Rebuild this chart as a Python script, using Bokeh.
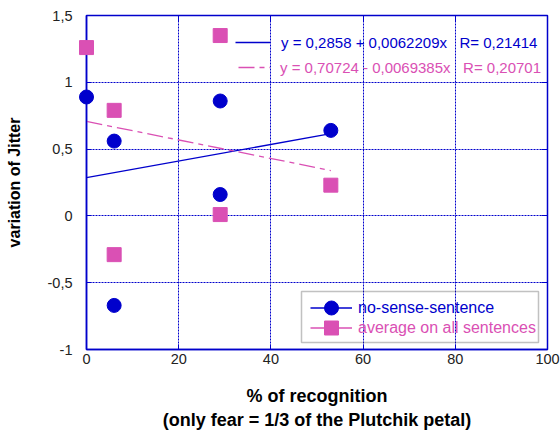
from bokeh.plotting import figure
from bokeh.models import (Range1d, FixedTicker, LinearAxis, Legend, LegendItem,
                          ColumnDataSource, BoxAnnotation)
from bokeh.embed import file_html
from bokeh.resources import INLINE

# ---- data ----
x_recog = [0, 6, 6, 29, 29, 53]
y_nosense = [0.89, 0.56, -0.67, 0.86, 0.16, 0.64]
y_average = [1.26, 0.79, -0.29, 1.35, 0.01, 0.23]

fit_x = [0, 53]
nosense_intercept, nosense_slope = 0.2858, 0.0062209
average_intercept, average_slope = 0.70724, -0.0069385
nosense_eq = "y = 0,2858 + 0,0062209x   R= 0,21414"
average_eq = "y = 0,70724 - 0,0069385x   R= 0,20701"

x_ticks = [0, 20, 40, 60, 80, 100]
y_ticks = [-1, -0.5, 0, 0.5, 1, 1.5]
y_tick_labels = ["-1", "-0,5", "0", "0,5", "1", "1,5"]

BLUE = "#0000CC"
PINK = "#DA50B4"
FONT = "Liberation Sans"

p = figure(width=560, height=432, output_backend="svg", toolbar_location=None,
           x_range=Range1d(0, 100), y_range=Range1d(-1, 1.5),
           min_border_left=86, min_border_right=13, min_border_top=15, min_border_bottom=82)
p.background_fill_color = "white"
p.border_fill_color = "white"
p.outline_line_color = BLUE
p.outline_line_width = 1.5

p.xaxis.ticker = FixedTicker(ticks=x_ticks)
p.yaxis.ticker = FixedTicker(ticks=y_ticks)
p.yaxis.major_label_overrides = {t: s for t, s in zip(y_ticks, y_tick_labels)}

for ax in (p.xaxis[0], p.yaxis[0]):
    ax.axis_line_color = BLUE
    ax.axis_line_width = 1.5
    ax.major_tick_line_color = BLUE
    ax.major_tick_in = 5
    ax.major_tick_out = 0
    ax.minor_tick_line_color = None
    ax.major_label_text_font = FONT
    ax.major_label_text_font_size = "14.5px"
    ax.major_label_text_color = "#222222"
    ax.axis_label_text_font = FONT
    ax.axis_label_text_font_style = "bold"
    ax.axis_label_text_color = "black"

p.xaxis.axis_label = "% of recognition\n(only fear = 1/3 of the Plutchik petal)"
p.yaxis.axis_label = "variation of Jitter"
p.xaxis.axis_label_text_font_size = "18px"
p.yaxis.axis_label_text_font_size = "16px"
p.xaxis.major_label_standoff = 4
p.xaxis.axis_label_standoff = 19
p.yaxis.major_label_standoff = 14
p.yaxis.axis_label_standoff = 22

# tick-only axes on the top and right edges
for side, tick in (("right", y_ticks), ("above", x_ticks)):
    ax = LinearAxis(ticker=FixedTicker(ticks=tick), axis_line_color=BLUE, major_tick_line_color=BLUE,
                    major_tick_in=6, major_tick_out=0, minor_tick_line_color=None,
                    major_label_overrides={t: "" for t in tick},
                    major_label_text_font_size="10px", major_label_standoff=0)
    p.add_layout(ax, side)

p.grid.grid_line_color = BLUE
p.grid.grid_line_dash = "2 1"
p.grid.grid_line_width = 1

# fit lines
fit_nosense = [nosense_intercept + nosense_slope * v for v in fit_x]
fit_average = [average_intercept + average_slope * v for v in fit_x]
r_fit_n = p.line(fit_x, fit_nosense, line_color=BLUE, line_width=1.3)
r_fit_a = p.line(fit_x, fit_average, line_color=PINK, line_width=1.3, line_dash="16 5 5 5")

# points (overlay level so markers on the axis are not cut)
r_pts_a = p.scatter(x_recog, y_average, marker="square", size=14, fill_color=PINK, line_color=PINK,
                    level="overlay")
r_pts_n = p.scatter(x_recog, y_nosense, marker="circle", size=14, fill_color=BLUE, line_color=BLUE,
                    level="overlay")

# placeholder renderers used only for legend glyphs
nan_src = ColumnDataSource(data=dict(x=[float("nan")], y=[float("nan")]))
r_leg_n = p.line("x", "y", source=nan_src, line_color=BLUE, line_width=1.3)
r_leg_a = p.line("x", "y", source=nan_src, line_color=PINK, line_width=1.3)


def mk_legend(items, loc, color, glyph_width=42, glyph_height=20, label_standoff=6,
              font_size="16px"):
    lg = Legend(items=items, location=loc, orientation="vertical",
                label_text_font=FONT, label_text_font_size=font_size, label_text_color=color,
                background_fill_alpha=0, border_line_color=None,
                padding=0, margin=0, spacing=1,
                glyph_width=glyph_width, glyph_height=glyph_height, label_height=glyph_height,
                label_standoff=label_standoff)
    p.add_layout(lg, "center")
    return lg


# legend frame
p.add_layout(BoxAnnotation(left=215, right=452, bottom=7, top=58,
                           left_units="screen", right_units="screen",
                           bottom_units="screen", top_units="screen",
                           fill_alpha=0, line_color="#333333", line_width=1.5,
                           level="overlay"))
# legend rows
mk_legend([LegendItem(label="no-sense-sentence", renderers=[r_leg_n, r_pts_n])],
          (224, 24), BLUE, glyph_height=35)
mk_legend([LegendItem(label="average on all sentences", renderers=[r_leg_a, r_pts_a])],
          (224, 4), PINK, glyph_height=35)

# regression equations
mk_legend([LegendItem(label=nosense_eq, renderers=[r_fit_n])], (149, 297), BLUE,
          glyph_width=35, label_standoff=11, font_size="15px")
mk_legend([LegendItem(label=average_eq, renderers=[r_fit_a])], (152, 272), PINK,
          glyph_width=32, label_standoff=10, font_size="15px")

open("out.html", "w").write(file_html(p, INLINE))
